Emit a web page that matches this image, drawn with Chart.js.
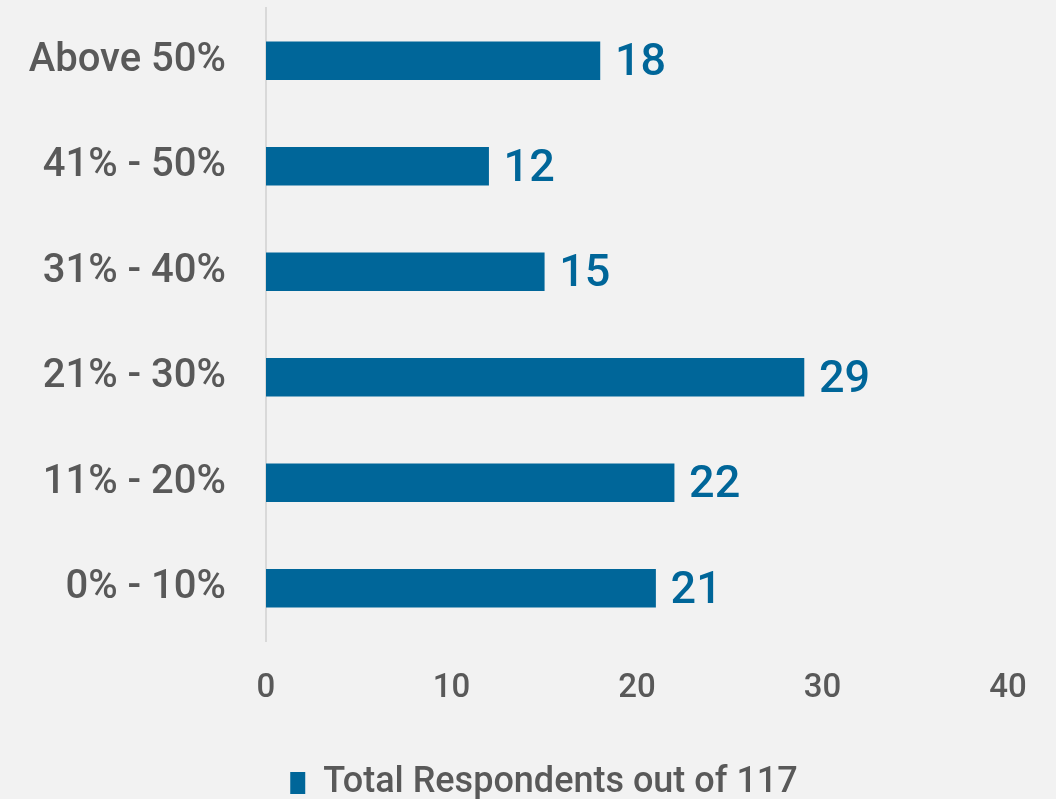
<!DOCTYPE html>
<html>
<head>
<meta charset="utf-8">
<script src="https://cdn.jsdelivr.net/npm/chart.js@4.4.1/dist/chart.umd.min.js"></script>
<style>
  html, body { margin: 0; padding: 0; background: #f2f2f2; }
  #wrap { width: 1056px; height: 799px; position: relative; }
</style>
</head>
<body>
<div id="wrap"><canvas id="myChart"></canvas></div>
<script>
var categories = ['Above 50%', '41% - 50%', '31% - 40%', '21% - 30%', '11% - 20%', '0% - 10%'];
var respondents = [18, 12, 15, 29, 22, 21];
var xTicks = [0, 10, 20, 30, 40];
var seriesName = 'Total Respondents out of 117';

var BLUE = '#006699';
var GREY = '#595959';
var FONT = 'Roboto, "Liberation Sans", sans-serif';

// value labels at the end of each bar
var barValues = {
    id: 'barValues',
    afterDatasetsDraw: function (chart) {
        var ctx = chart.ctx;
        var meta = chart.getDatasetMeta(0);
        ctx.save();
        ctx.fillStyle = BLUE;
        ctx.font = '500 45px ' + FONT;
        ctx.textAlign = 'left';
        ctx.textBaseline = 'middle';
        meta.data.forEach(function (bar, i) {
            ctx.fillText(respondents[i], bar.x + 15, bar.y + 3);
        });
        ctx.restore();
    }
};

// centre the legend a bit further right than the full canvas width would
var legendShift = {
    id: 'legendShift',
    afterLayout: function (chart) {
        if (chart.legend) chart.legend.left = 80;
    }
};

var ctx = document.getElementById('myChart').getContext('2d');
var myChart = new Chart(ctx, {
    type: 'bar',
    data: {
        labels: categories,
        datasets: [{
            label: seriesName,
            data: respondents,
            backgroundColor: BLUE,
            borderWidth: 0,
            barThickness: 38
        }]
    },
    options: {
        indexAxis: 'y',
        responsive: true,
        maintainAspectRatio: false,
        animation: false,
        layout: { padding: { top: 8, right: 48, left: 0, bottom: -12 } },
        scales: {
            x: {
                min: 0,
                max: 40,
                afterBuildTicks: function (scale) {
                    scale.ticks = xTicks.map(function (v) { return { value: v }; });
                },
                afterFit: function (scale) { scale.height = 122; },
                grid: { display: false, drawTicks: false },
                border: { display: false },
                ticks: {
                    color: GREY,
                    font: { family: FONT, size: 33, weight: '500' },
                    padding: 28,
                    maxRotation: 0
                }
            },
            y: {
                afterFit: function (scale) {
                    scale.width = 266;
                    scale.paddingTop = 0;
                    scale.paddingBottom = 0;
                },
                grid: { display: false, drawTicks: false },
                border: { display: true, color: '#d9d9d9', width: 2 },
                ticks: {
                    color: GREY,
                    font: { family: FONT, size: 40, weight: '500' },
                    padding: 40
                }
            }
        },
        plugins: {
            legend: {
                position: 'bottom',
                labels: {
                    color: GREY,
                    font: { family: FONT, size: 36, weight: '500' },
                    boxWidth: 15,
                    boxHeight: 22,
                    padding: 2
                }
            },
            tooltip: { enabled: false }
        }
    },
    plugins: [barValues, legendShift]
});
</script>
</body>
</html>
